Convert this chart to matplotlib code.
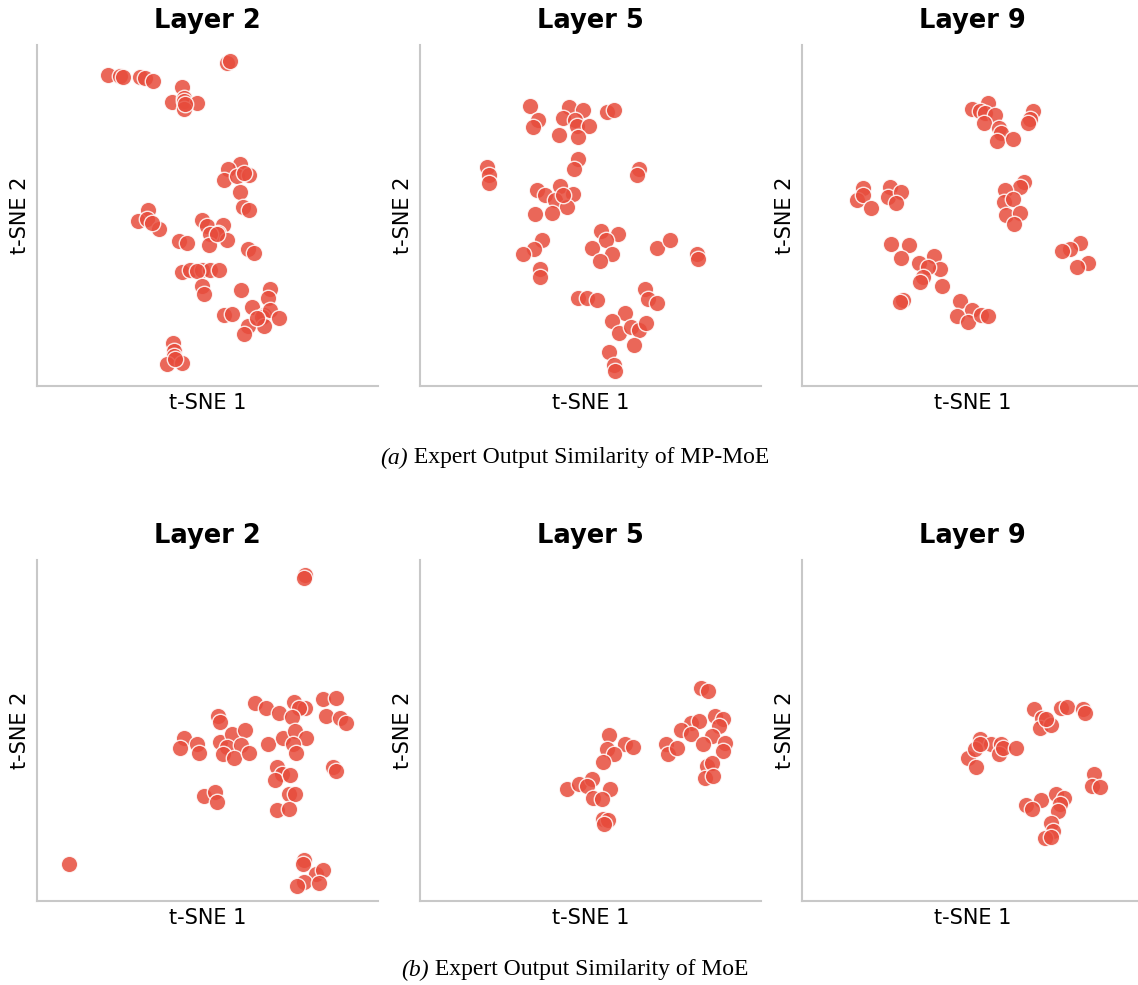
import matplotlib
matplotlib.use("Agg")
import matplotlib.pyplot as plt
import numpy as np

# ---- data: t-SNE coordinates (arbitrary units) ----
# Each panel: x values and y values (y grows downward in the read-out units, axis is flipped)
a2_x = [233, 268, 277, 330, 345, 368, 590, 600, 455, 425, 460, 462, 500, 460, 465,
        628, 592, 582, 620, 655, 640, 628, 637, 657, 353, 323, 350, 385, 365,
        515, 530, 578, 562, 540, 590, 537, 560, 445, 470, 652, 672,
        455, 480, 515, 540, 565, 500, 515, 520, 632, 720, 712, 580, 605,
        665, 700, 695, 720, 745, 700, 652, 640, 680, 428, 432, 432, 410, 455, 435]
a2_y = [103, 106, 108, 108, 112, 120, 67, 60, 138, 183, 170, 180, 185, 205, 190,
        368, 385, 418, 405, 402, 395, 453, 497, 507, 508, 540, 535, 565, 545,
        538, 555, 552, 575, 580, 597, 612, 580, 600, 605, 625, 635,
        693, 688, 688, 688, 688, 690, 735, 760, 748, 745, 770, 822, 818,
        798, 822, 828, 808, 832, 855, 855, 880, 830, 905, 930, 945, 968, 965, 955]

a5_x = [360, 385, 368, 478, 518, 460, 495, 500, 537, 448, 503, 590, 612,
        503, 492, 230, 237, 238, 688, 680,
        380, 405, 450, 435, 490, 472, 425, 376, 458,
        395, 372, 338, 390, 390, 573, 625, 587, 546, 607, 570,
        742, 780, 860, 865, 706, 715, 740, 505, 532, 560,
        645, 607, 628, 662, 688, 708, 672, 598, 613, 615]
a5_y = [198, 240, 260, 200, 210, 233, 238, 258, 258, 285, 290, 215, 208,
        355, 387, 380, 405, 428, 387, 405,
        448, 465, 438, 480, 462, 500, 518, 522, 465,
        598, 625, 640, 685, 710, 572, 582, 600, 622, 640, 662,
        624, 600, 640, 655, 745, 775, 788, 772, 772, 778,
        818, 843, 878, 860, 870, 848, 915, 935, 975, 992]

a9_x = [533, 580, 555, 570, 600, 567, 612, 618, 608, 655, 715, 705, 700,
        205, 188, 205, 230, 285, 280, 318, 305,
        688, 675, 632, 627, 655, 635, 675, 657,
        855, 825, 803, 880, 848,
        290, 343, 320, 372, 417, 435, 400, 385, 375, 442, 325, 315,
        495, 532, 487, 520, 560, 580]
a9_y = [207, 188, 213, 218, 225, 248, 262, 278, 302, 295, 213, 235, 248,
        443, 478, 465, 502, 440, 470, 455, 488,
        425, 440, 450, 485, 475, 525, 518, 550,
        608, 625, 632, 668, 680,
        612, 615, 652, 668, 648, 685, 680, 710, 725, 738, 780, 785,
        783, 808, 828, 845, 823, 826]

b2_x = [823, 822, 117, 675, 708, 745, 790, 825, 805, 785, 878, 918, 888, 928, 948,
        563, 570, 462, 450, 500, 505, 570, 605, 643, 590, 632, 578, 612, 657,
        714, 758, 793, 828, 788, 797, 908, 918, 740, 755, 733, 778,
        522, 555, 560, 775, 795, 740, 775, 820, 818, 858, 878, 820, 800, 865]
b2_y = [62, 72, 930, 445, 462, 477, 443, 460, 462, 488, 435, 430, 485, 490, 505,
        485, 502, 552, 582, 570, 595, 563, 540, 528, 578, 572, 600, 610, 597,
        570, 550, 530, 550, 570, 597, 638, 650, 637, 660, 678, 662,
        725, 712, 742, 720, 718, 767, 765, 918, 928, 960, 947, 983, 995, 985]

b5_x = [872, 895, 915, 940, 928, 843, 868, 812, 842, 905, 880, 945, 940, 768, 775,
        800, 892, 905, 885, 910, 598, 645, 668, 590, 612, 580,
        472, 508, 545, 530, 600, 550, 575, 580, 595, 583]
b5_y = [400, 410, 485, 493, 515, 505, 500, 528, 540, 545, 568, 567, 590, 568, 598,
        580, 635, 625, 670, 665, 543, 568, 577, 583, 600, 622,
        703, 688, 675, 695, 705, 730, 735, 795, 797, 810]

b9_x = [718, 742, 735, 768, 755, 798, 818, 865, 872,
        555, 520, 545, 540, 590, 620, 612, 625, 663, 555,
        897, 893, 915, 695, 740, 712, 785, 808, 795, 790, 770, 775, 750, 770]
b9_y = [465, 490, 520, 513, 495, 462, 457, 465, 475,
        555, 612, 637, 585, 570, 570, 600, 582, 582, 570,
        660, 695, 698, 753, 737, 765, 720, 730, 750, 770, 805, 830, 850, 848]

titles = ["Layer 2", "Layer 5", "Layer 9"]
captions = ["(a)", "(b)"]
caption_texts = [" Expert Output Similarity of MP-MoE", " Expert Output Similarity of MoE"]

panels = [
    [(a2_x, a2_y), (a5_x, a5_y), (a9_x, a9_y)],
    [(b2_x, b2_y), (b5_x, b5_y), (b9_x, b9_y)],
]
# axis ranges (read-out units) per panel: x left, y bottom
x_left = [[20, 30, 22], [20, 30, 22]]
y_bottom = [[1035, 1037, 1037], [1040, 1040, 1040]]

W, H = 1138, 985
fig = plt.figure(figsize=(W / 100, H / 100), dpi=100)

lefts = [37, 420, 802]
tops = [45, 560]
aw, ah = 341, 341
col = "#e74c3c"

for r in range(2):
    for c in range(3):
        ax = fig.add_axes([lefts[c] / W, 1 - (tops[r] + ah) / H, aw / W, ah / H])
        xs, ys = panels[r][c]
        ax.scatter(xs, ys, s=140, c=col, alpha=0.85, edgecolors="white", linewidths=1.0, zorder=3)
        xl = x_left[r][c]
        yb = y_bottom[r][c]
        ax.set_xlim(xl, xl + 1023)
        ax.set_ylim(yb, yb - 1023)
        ax.set_xticks([])
        ax.set_yticks([])
        for s in ["top", "right"]:
            ax.spines[s].set_visible(False)
        for s in ["left", "bottom"]:
            ax.spines[s].set_color("#c8c8c8")
            ax.spines[s].set_linewidth(1.5)
        ax.set_title(titles[c], fontsize=18.5, fontweight="bold", pad=12, family="DejaVu Sans")
        ax.set_xlabel("t-SNE 1", fontsize=15, labelpad=5)
        ax.set_ylabel("t-SNE 2", fontsize=15, labelpad=5)

cap_y = [458, 970]
for r in range(2):
    t1 = fig.text(0, 0, captions[r], fontsize=17, family="Liberation Serif", style="italic")
    t2 = fig.text(0, 0, caption_texts[r], fontsize=17, family="Liberation Serif")
    fig.canvas.draw()
    rend = fig.canvas.get_renderer()
    w1 = t1.get_window_extent(rend).width
    w2 = t2.get_window_extent(rend).width
    x0 = 575 - (w1 + w2) / 2
    t1.set_position((x0 / W, 1 - cap_y[r] / H))
    t1.set_va("center")
    t2.set_position(((x0 + w1) / W, 1 - cap_y[r] / H))
    t2.set_va("center")

fig.savefig("out.png", dpi=100)
